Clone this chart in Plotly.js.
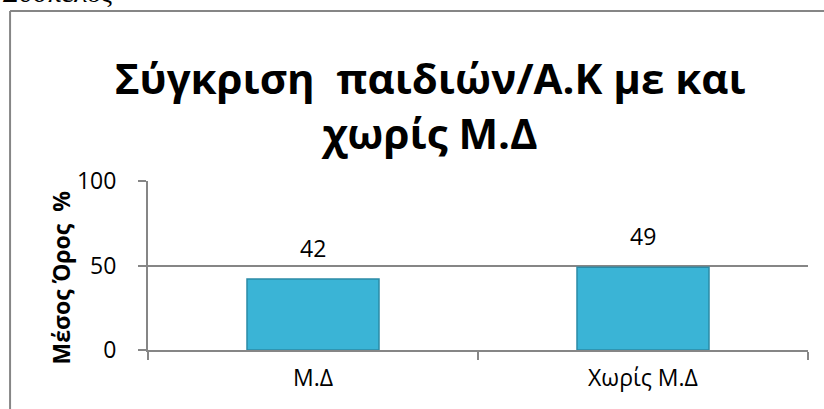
<!DOCTYPE html>
<html>
<head>
<meta charset="utf-8">
<script src="https://cdn.plot.ly/plotly-3.0.1.min.js"></script>
<style>html,body{margin:0;padding:0;background:#fff;}#chart{width:824px;height:409px;}</style>
</head>
<body>
<div id="chart"></div>
<script>
var categories = ["Μ.Δ", "Χωρίς Μ.Δ"];
var values = [42, 49];
var valueLabels = ["42", "49"];
var yTickVals = [0, 50, 100];
var titleText = "Σύγκριση  παιδιών/Α.Κ με και<br>χωρίς Μ.Δ";
var yTitle = "Μέσος Όρος  %";
var headerText = "Συσπελος";

var font = "Open Sans, Noto Sans, sans-serif";

var trace = {
  type: "bar",
  x: categories,
  y: values,
  width: 0.4,
  marker: {color: "#3ab4d6", line: {color: "#2b8aa6", width: 1.5}},
  hoverinfo: "none"
};

var annotations = categories.map(function (c, i) {
  return {x: c, y: values[i], xref: "x", yref: "y", text: valueLabels[i],
    showarrow: false, yanchor: "bottom", yshift: 13,
    font: {family: font, size: 23, color: "#000"}};
});
annotations.push({
  xref: "paper", yref: "paper", x: -0.224, y: (350 - 10) / 169, xanchor: "left", yanchor: "bottom",
  text: headerText, showarrow: false,
  font: {family: "Liberation Serif, serif", size: 28, color: "#000"}
});
annotations.push({
  xref: "paper", yref: "paper", x: (60 - 148) / 660, y: 0.5, yshift: -12,
  xanchor: "center", yanchor: "middle", textangle: -90,
  text: yTitle, showarrow: false,
  font: {family: font, size: 23, color: "#000", weight: "bold"}
});

var layout = {
  width: 824, height: 409,
  margin: {l: 148, r: 16, t: 181, b: 59},
  paper_bgcolor: "#fff", plot_bgcolor: "#fff",
  showlegend: false,
  title: {text: titleText, x: 0.522, xanchor: "center", y: 1 - 94/409, yanchor: "middle", yref: "container",
    font: {family: font, size: 42, color: "#000", weight: "bold"}},
  xaxis: {
    type: "category", showline: true, linecolor: "#868686", linewidth: 2,
    ticks: "outside", tickson: "boundaries", ticklen: 8, tickcolor: "#868686", tickwidth: 2,
    ticklabelstandoff: 6,
    tickfont: {family: font, size: 23, color: "#000"}, showgrid: false, zeroline: false,
    range: [-0.5, 1.5]
  },
  yaxis: {
    range: [0, 100], tickvals: yTickVals, showline: true, linecolor: "#868686", linewidth: 2,
    ticks: "outside", ticklen: 8, tickcolor: "#868686", tickwidth: 2,
    ticklabelstandoff: 17,
    showgrid: true, gridcolor: "#868686", gridwidth: 2, zeroline: false,
    tickfont: {family: font, size: 23, color: "#000"}
  },
  annotations: annotations,
  shapes: [
    {type: "line", xref: "paper", yref: "paper", x0: -0.209, x1: -0.209, y0: 2.006, y1: -0.5,
      line: {color: "#868686", width: 2}},
    {type: "line", xref: "paper", yref: "paper", x0: -0.209, x1: 1.2, y0: 2.006, y1: 2.006,
      line: {color: "#868686", width: 2}}
  ]
};

Plotly.newPlot("chart", [trace], layout, {displayModeBar: false, staticPlot: true});
</script>
</body>
</html>
